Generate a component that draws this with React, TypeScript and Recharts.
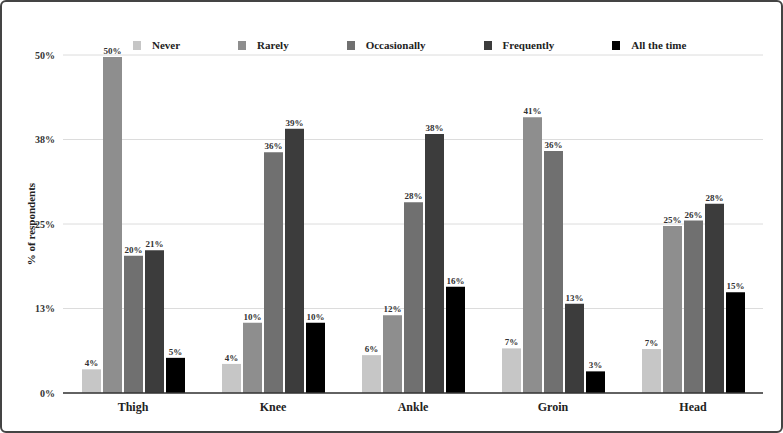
import { BarChart, Bar, XAxis, YAxis, CartesianGrid, LabelList } from "recharts";

const regions = ["Thigh", "Knee", "Ankle", "Groin", "Head"];
const seriesNames = ["Never", "Rarely", "Occasionally", "Frequently", "All the time"];
const seriesColors = ["#c6c6c6", "#8e8e8e", "#707070", "#3c3c3c", "#000000"];

// % of respondents per region, one array per answer
const never = [3.5, 4.3, 5.6, 6.6, 6.5];
const rarely = [49.7, 10.4, 11.5, 40.8, 24.7];
const occasionally = [20.3, 35.6, 28.2, 35.8, 25.5];
const frequently = [21.1, 39.1, 38.3, 13.2, 28.0];
const allTheTime = [5.2, 10.4, 15.7, 3.2, 14.9];

const yTicks = [0, 12.5, 25, 37.5, 50];

const series = [never, rarely, occasionally, frequently, allTheTime];

const data = regions.map((region, i) => {
  const row: Record<string, string | number> = { region };
  seriesNames.forEach((name, s) => {
    row[name] = series[s][i];
  });
  return row;
});

const pct = (v: unknown) => `${Math.round(Number(v))}%`;

const serif = "'Liberation Serif', 'Times New Roman', Tinos, Times, serif";

export default function App() {
  return (
    <div
      style={{
        position: "absolute",
        left: 0,
        top: 0,
        width: 783,
        height: 433,
        background: "#fff",
        fontFamily: serif,
      }}
    >
      <BarChart
        width={783}
        height={433}
        data={data}
        margin={{ top: 55, right: 20, bottom: 0, left: 0 }}
        barCategoryGap={19}
        barGap={2}
        style={{ fontFamily: serif }}
      >
        <CartesianGrid vertical={false} stroke="#dcdcdc" strokeWidth={1} />
        <XAxis
          dataKey="region"
          height={40}
          tickLine={false}
          tickSize={0}
          tickMargin={9}
          axisLine={{ stroke: "#333", strokeWidth: 1.5 }}
          tick={{ fontSize: 12, fontWeight: 700, fill: "#222", fontFamily: serif }}
        />
        <YAxis
          width={63}
          domain={[0, 50]}
          ticks={yTicks}
          tickFormatter={pct}
          tickLine={false}
          axisLine={false}
          tickSize={0}
          tickMargin={8}
          tick={{ fontSize: 10, fontWeight: 700, fill: "#333", fontFamily: serif }}
          label={{
            value: "% of respondents",
            angle: -90,
            position: "center",
            style: { fontSize: 11, fontWeight: 700, fill: "#222", fontFamily: serif },
          }}
        />
        {seriesNames.map((name, s) => (
          <Bar key={name} dataKey={name} fill={seriesColors[s]} isAnimationActive={false}>
            <LabelList
              dataKey={name}
              position="top"
              offset={3}
              formatter={pct}
              fill="#333"
              style={{ fontSize: 9, fontWeight: 700, fill: "#333", fontFamily: serif }}
            />
          </Bar>
        ))}
      </BarChart>

      <div
        style={{
          position: "absolute",
          left: 133,
          top: 39,
          display: "flex",
          gap: 58,
          fontSize: 11,
          fontWeight: 700,
          color: "#222",
        }}
      >
        {seriesNames.map((name, s) => (
          <div key={name} style={{ display: "flex", alignItems: "center", gap: 11 }}>
            <span style={{ width: 8, height: 9, background: seriesColors[s], display: "inline-block" }} />
            <span>{name}</span>
          </div>
        ))}
      </div>

      <div
        style={{
          position: "absolute",
          inset: 0,
          border: "2px solid #444",
          borderRadius: 6,
          pointerEvents: "none",
        }}
      />
    </div>
  );
}
